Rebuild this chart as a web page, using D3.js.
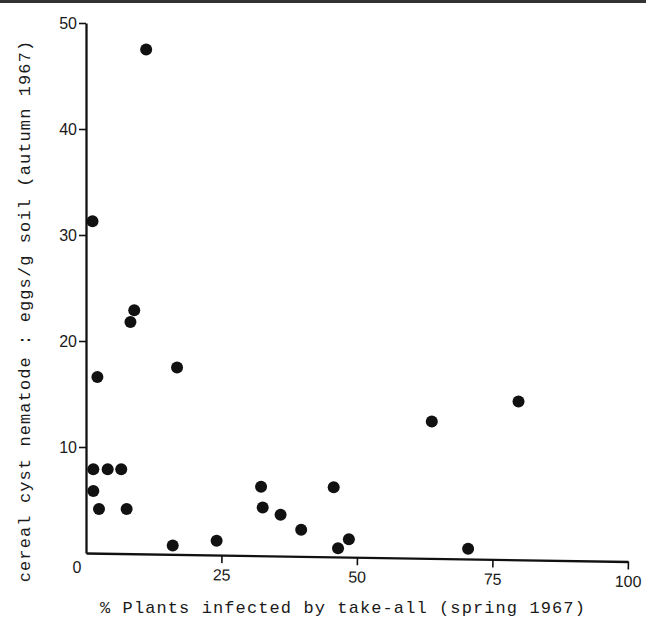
<!DOCTYPE html>
<html>
<head>
<meta charset="utf-8">
<script src="https://cdn.jsdelivr.net/npm/d3@7"></script>
<style>
    body { margin: 0; background: #fff; }
    svg { display: block; }
    .tick text { font-family: "Liberation Sans", sans-serif; font-size: 16px; fill: #1a1a1a; }
    .title { font-family: "Liberation Mono", monospace; font-size: 17px; letter-spacing: 1.1px; fill: #1a1a1a; }
</style>
</head>
<body>
<svg></svg>
<script>
// % plants infected by take-all (spring 1967)
var takeAll = [11.1, 1.2, 8.9, 8.2, 2.1, 16.8, 1.35, 4.0, 6.5, 1.35, 2.4, 7.5,
    16.0, 24.1, 32.3, 32.6, 35.9, 39.7, 45.7, 46.5, 48.5, 63.8, 79.8, 70.5];
// cereal cyst nematode eggs/g soil (autumn 1967)
var eggs = [47.5, 31.3, 22.9, 21.8, 16.6, 17.5, 7.9, 7.9, 7.9, 5.85, 4.15, 4.15,
    0.7, 1.15, 6.25, 4.3, 3.6, 2.2, 6.2, 0.45, 1.3, 12.4, 14.3, 0.4];
var xTicks = [25, 50, 75, 100];
var yTicks = [10, 20, 30, 40, 50];
var xTitle = "% Plants infected by take-all (spring 1967)";
var yTitle = "cereal cyst nematode : eggs/g soil (autumn 1967)";

var width = 646,
    height = 626;

var svg = d3.select('svg')
    .attr('width', width)
    .attr('height', height);

var x = d3.scaleLinear()
    .domain([0, 100])
    .range([86, 628]);

var y = d3.scaleLinear()
    .domain([0, 50])
    .range([553, 23]);

// scanned page edge along the top
svg.append('rect')
    .attr('x', 0)
    .attr('y', 0)
    .attr('width', width)
    .attr('height', 3)
    .attr('fill', '#333');

var yAxis = svg.append('g')
    .attr('transform', 'translate(' + x(0) + ',0)')
    .call(d3.axisLeft(y).tickValues(yTicks).tickSize(7).tickSizeOuter(0).tickPadding(2));

// the scan is a little skewed, x axis drops to the right
var xAxis = svg.append('g')
    .attr('transform', 'rotate(0.9,' + x(0) + ',' + y(0) + ') translate(0,' + y(0) + ')')
    .call(d3.axisBottom(x).tickValues(xTicks).tickSize(8).tickSizeOuter(0).tickPadding(6));

svg.selectAll('.domain')
    .attr('stroke', '#111')
    .attr('stroke-width', 2.3);
svg.selectAll('.tick line')
    .attr('stroke', '#111')
    .attr('stroke-width', 1.6);

// shared origin label
svg.append('text')
    .attr('x', x(0) - 9)
    .attr('y', y(0) + 20)
    .attr('text-anchor', 'middle')
    .style('font-family', '"Liberation Sans", sans-serif')
    .style('font-size', '16px')
    .style('fill', '#1a1a1a')
    .text('0');

svg.append('g')
    .selectAll('circle')
    .data(takeAll)
    .enter().append('circle')
    .attr('cx', function (d) { return x(d); })
    .attr('cy', function (d, i) { return y(eggs[i]); })
    .attr('r', 6)
    .attr('fill', '#111');

svg.append('text')
    .attr('class', 'title')
    .attr('x', 343)
    .attr('y', 613)
    .attr('text-anchor', 'middle')
    .text(xTitle);

svg.append('text')
    .attr('class', 'title')
    .attr('transform', 'translate(30,311) rotate(-90)')
    .attr('text-anchor', 'middle')
    .text(yTitle);
</script>
</body>
</html>
